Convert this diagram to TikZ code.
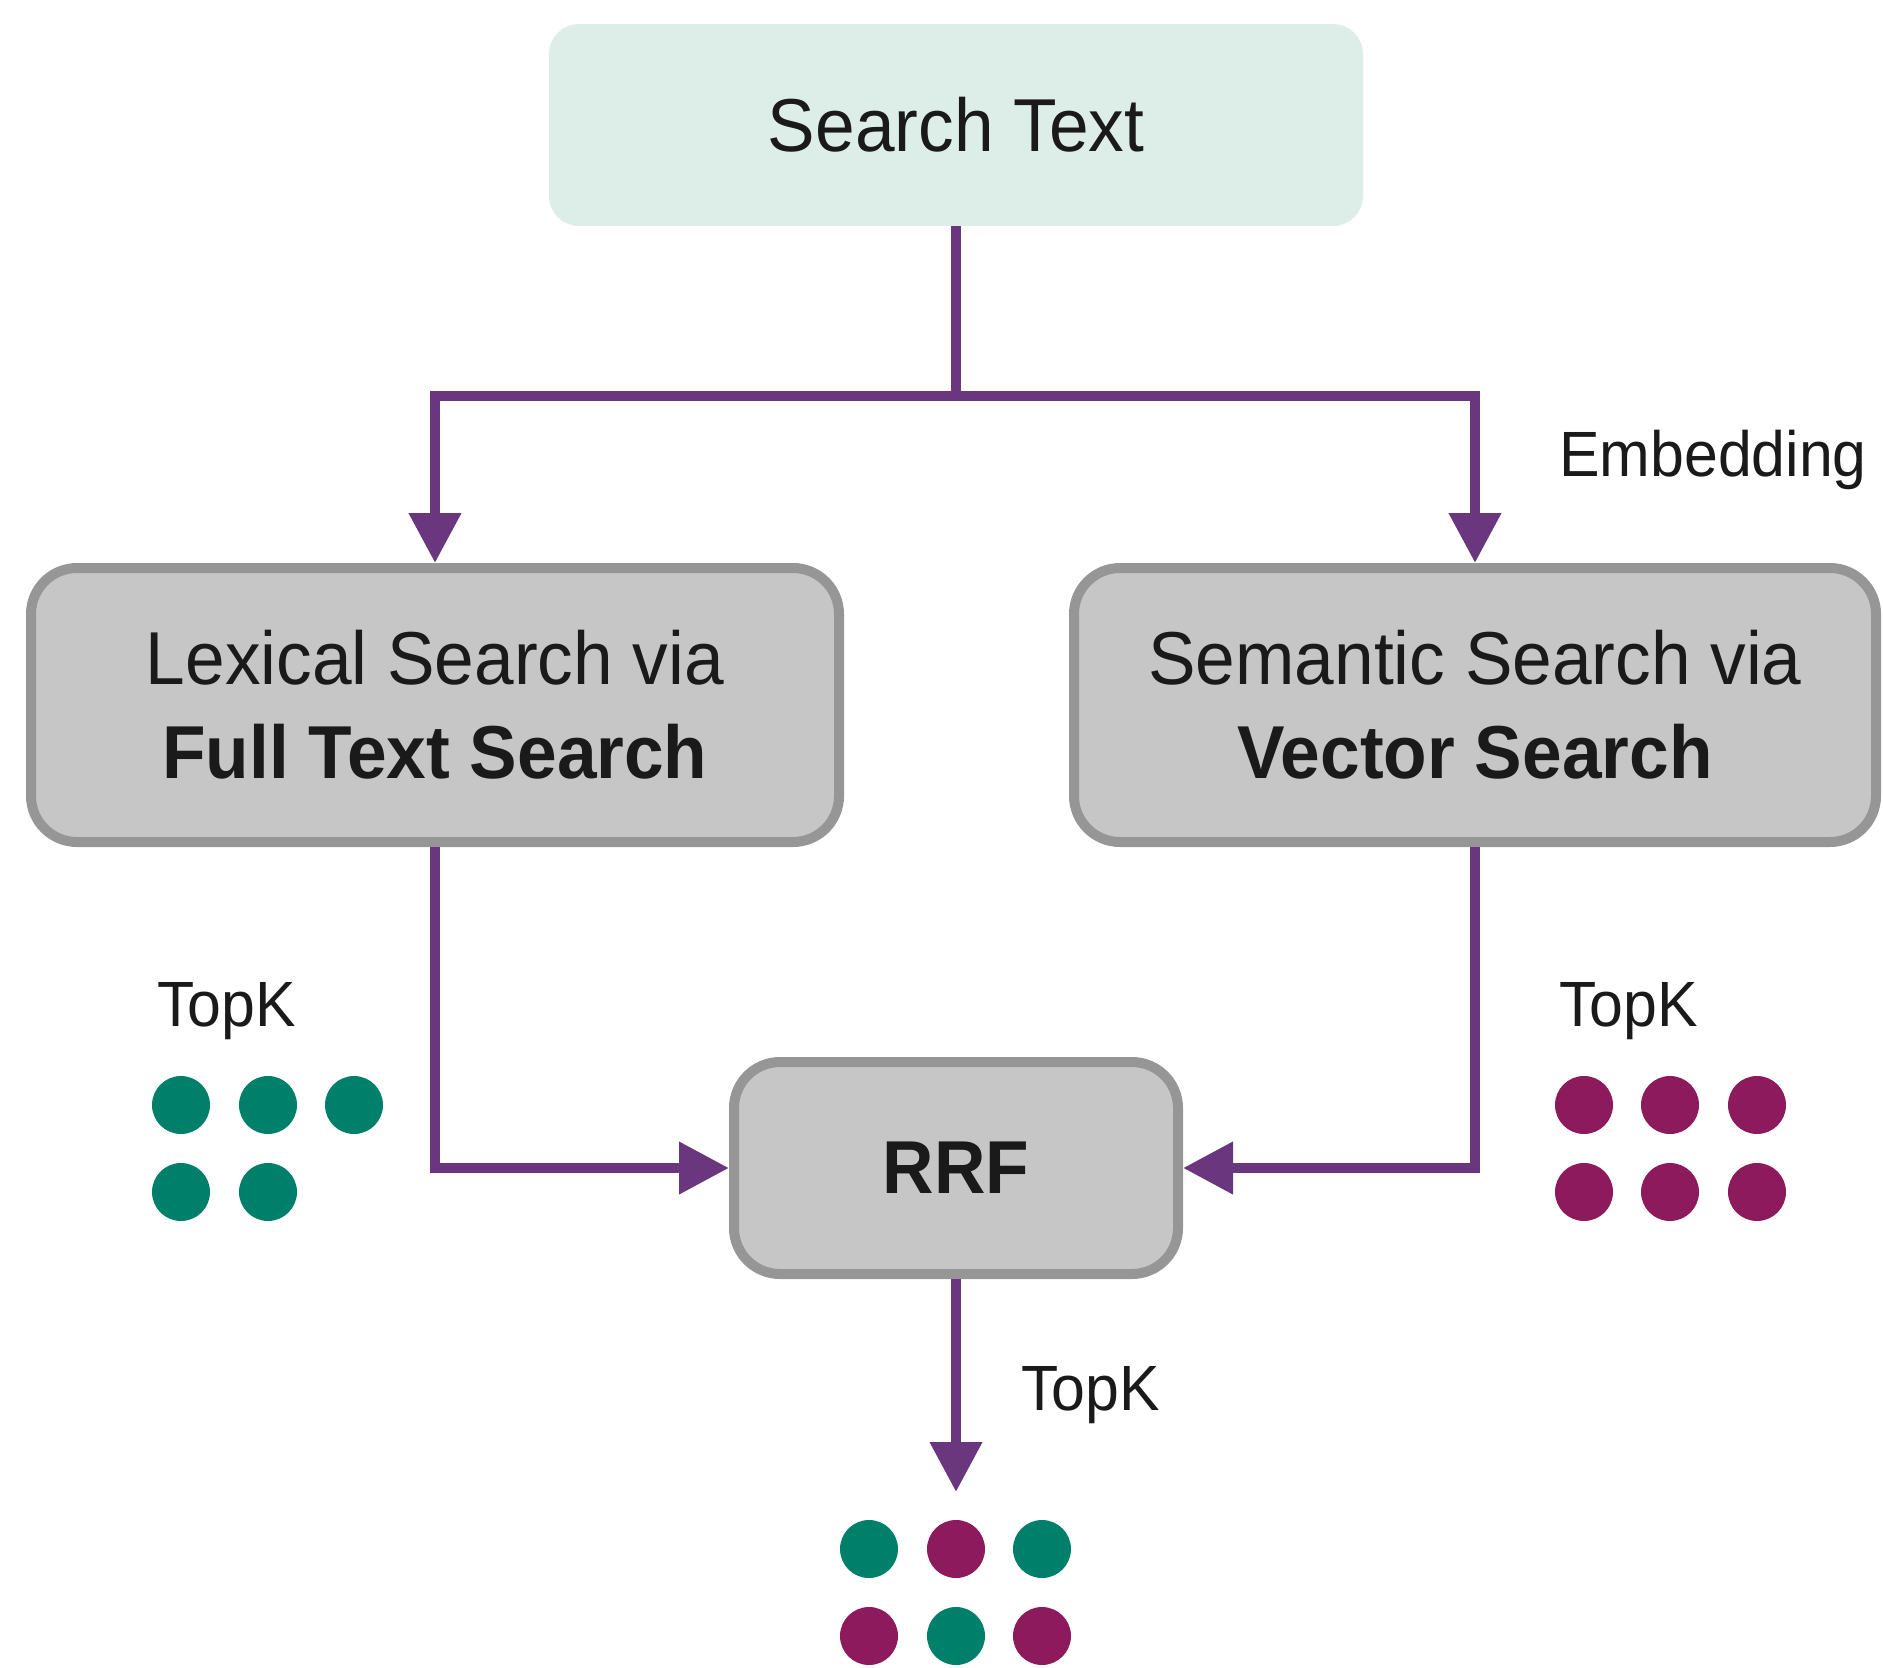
\documentclass[tikz,border=0pt]{standalone}
\usepackage{fontspec}
\setmainfont{Liberation Sans}[FakeStretch=0.95]
\usetikzlibrary{arrows.meta}
\definecolor{flow}{HTML}{6A377F}
\definecolor{mint}{HTML}{DDEEE8}
\definecolor{boxfill}{HTML}{C6C6C6}
\definecolor{boxline}{HTML}{969696}
\definecolor{ink}{HTML}{1A1A1A}
\definecolor{dotgreen}{HTML}{007F6A}
\definecolor{dotmag}{HTML}{8C1A5C}
\tikzset{
  startbox/.style={rectangle, rounded corners=30pt, fill=mint, draw=none,
    minimum width=814pt, minimum height=202pt, inner sep=0pt, text=ink,
    font=\fontsize{75}{94}\selectfont},
  procbox/.style={rectangle, rounded corners=46pt, fill=boxfill, draw=boxline,
    line width=10pt, inner sep=0pt, text=ink, align=center,
    font=\fontsize{75}{94}\selectfont},
  flowline/.style={draw=flow, line width=10.5pt},
  flowarrow/.style={flowline, -{Triangle[length=50pt,width=50pt]}},
  lbl/.style={inner sep=0pt, text=ink, anchor=west, font=\fontsize{64}{70}\selectfont},
  gdot/.style={circle, fill=dotgreen, minimum size=58pt, inner sep=0pt},
  mdot/.style={circle, fill=dotmag, minimum size=58pt, inner sep=0pt}
}
\begin{document}
\begin{tikzpicture}[x=1pt,y=-1pt]
\useasboundingbox (0,0) rectangle (1883,1668);
\node[startbox] (top) at (956,125) {Search Text};
\node[procbox, minimum width=808pt, minimum height=274pt] (lex) at (435,705)
  {Lexical Search via\\\textbf{Full Text Search}};
\node[procbox, minimum width=802pt, minimum height=274pt] (sem) at (1475,705)
  {Semantic Search via\\\textbf{Vector Search}};
\node[procbox, minimum width=444pt, minimum height=212pt] (rrf) at (956,1168)
  {\textbf{RRF}};
\coordinate (split) at (956,396);
\coordinate (res) at (956,1492);
\draw[flowline] (top.south) -- (split);
\draw[flowarrow] (split) -| (lex.north);
\draw[flowarrow] (split) -| (sem.north);
\draw[flowarrow] (lex.south) |- (rrf.west);
\draw[flowarrow] (sem.south) |- (rrf.east);
\draw[flowarrow] (rrf.south) -- (res);
\node[lbl] (emb) at (1559,460) {Embedding};
\node[lbl] (tkl) at (157,1011) {TopK};
\node[lbl] (tkr) at (1559,1011) {TopK};
\node[lbl] (tkb) at (1021,1395) {TopK};
% left dots
\node[gdot] (l1) at (181,1105) {};
\node[gdot] (l2) at (268,1105) {};
\node[gdot] (l3) at (354,1105) {};
\node[gdot] (l4) at (181,1192) {};
\node[gdot] (l5) at (268,1192) {};
% right dots
\node[mdot] (r1) at (1584,1105) {};
\node[mdot] (r2) at (1670,1105) {};
\node[mdot] (r3) at (1757,1105) {};
\node[mdot] (r4) at (1584,1192) {};
\node[mdot] (r5) at (1670,1192) {};
\node[mdot] (r6) at (1757,1192) {};
% result dots
\node[gdot] (b1) at (869,1549) {};
\node[mdot] (b2) at (956,1549) {};
\node[gdot] (b3) at (1042,1549) {};
\node[mdot] (b4) at (869,1636) {};
\node[gdot] (b5) at (956,1636) {};
\node[mdot] (b6) at (1042,1636) {};
\end{tikzpicture}
\end{document}
